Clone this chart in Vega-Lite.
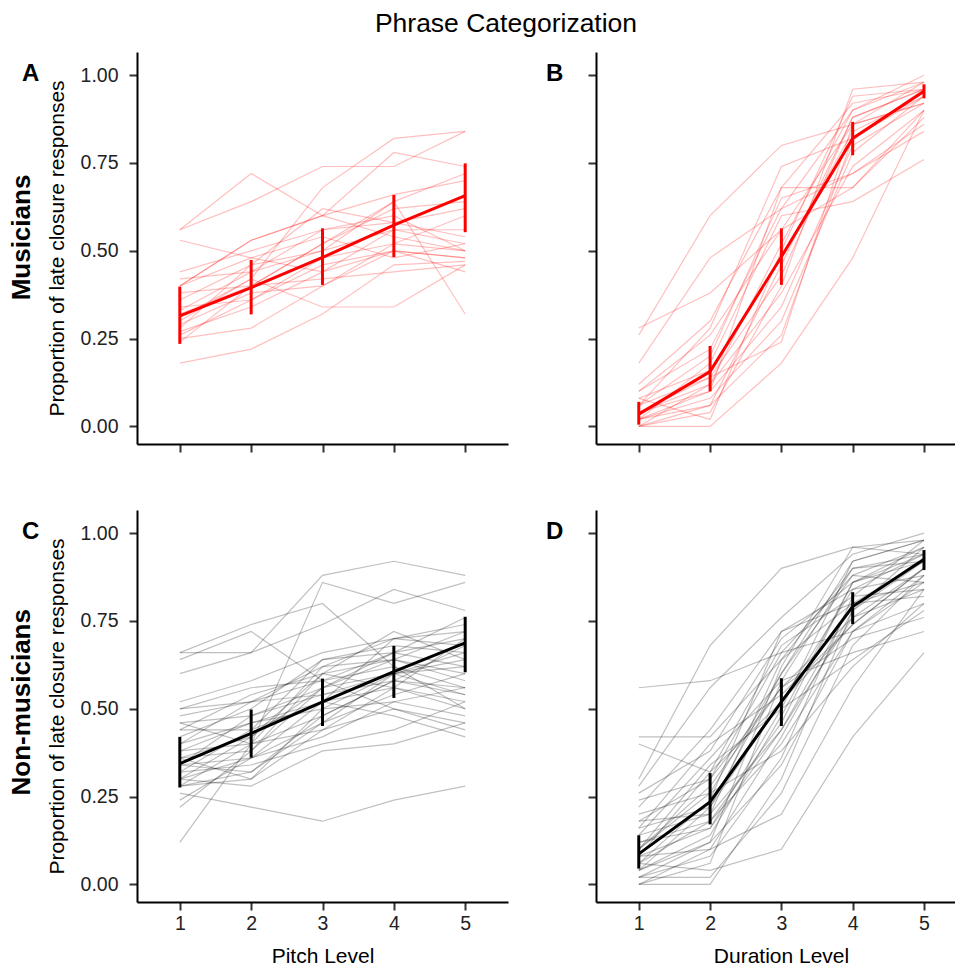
{
"$schema": "https://vega.github.io/schema/vega-lite/v6.json",
"padding": {"left": 9, "top": 10, "right": 0, "bottom": 0},
"title": {"text": "Phrase Categorization", "fontSize": 26.5, "fontWeight": "normal", "font": "Liberation Sans", "color": "#000", "anchor": "middle", "offset": 15, "dx": 24},
"datasets": {
"sum": [
{"p":"A","x":1,"y":0.315,"lo":0.235,"hi":0.398},{"p":"A","x":2,"y":0.395,"lo":0.319,"hi":0.474},{"p":"A","x":3,"y":0.481,"lo":0.403,"hi":0.564},{"p":"A","x":4,"y":0.573,"lo":0.482,"hi":0.659},{"p":"A","x":5,"y":0.657,"lo":0.553,"hi":0.749},
{"p":"B","x":1,"y":0.035,"lo":0.005,"hi":0.07},{"p":"B","x":2,"y":0.156,"lo":0.10,"hi":0.229},{"p":"B","x":3,"y":0.483,"lo":0.403,"hi":0.564},{"p":"B","x":4,"y":0.82,"lo":0.772,"hi":0.867},{"p":"B","x":5,"y":0.954,"lo":0.934,"hi":0.974},
{"p":"C","x":1,"y":0.344,"lo":0.276,"hi":0.42},{"p":"C","x":2,"y":0.43,"lo":0.361,"hi":0.498},{"p":"C","x":3,"y":0.52,"lo":0.451,"hi":0.586},{"p":"C","x":4,"y":0.606,"lo":0.531,"hi":0.679},{"p":"C","x":5,"y":0.688,"lo":0.604,"hi":0.762},
{"p":"D","x":1,"y":0.087,"lo":0.045,"hi":0.14},{"p":"D","x":2,"y":0.235,"lo":0.171,"hi":0.317},{"p":"D","x":3,"y":0.52,"lo":0.451,"hi":0.587},{"p":"D","x":4,"y":0.791,"lo":0.741,"hi":0.832},{"p":"D","x":5,"y":0.926,"lo":0.895,"hi":0.952}
],
"mp": [
{"i":1,"x":1,"y":0.56},{"i":1,"x":2,"y":0.72},{"i":1,"x":3,"y":0.60},{"i":1,"x":4,"y":0.54},{"i":1,"x":5,"y":0.50},
{"i":2,"x":1,"y":0.56},{"i":2,"x":2,"y":0.64},{"i":2,"x":3,"y":0.74},{"i":2,"x":4,"y":0.74},{"i":2,"x":5,"y":0.84},
{"i":3,"x":1,"y":0.53},{"i":3,"x":2,"y":0.48},{"i":3,"x":3,"y":0.44},{"i":3,"x":4,"y":0.50},{"i":3,"x":5,"y":0.48},
{"i":4,"x":1,"y":0.30},{"i":4,"x":2,"y":0.42},{"i":4,"x":3,"y":0.68},{"i":4,"x":4,"y":0.82},{"i":4,"x":5,"y":0.84},
{"i":5,"x":1,"y":0.40},{"i":5,"x":2,"y":0.53},{"i":5,"x":3,"y":0.60},{"i":5,"x":4,"y":0.78},{"i":5,"x":5,"y":0.74},
{"i":6,"x":1,"y":0.44},{"i":6,"x":2,"y":0.50},{"i":6,"x":3,"y":0.56},{"i":6,"x":4,"y":0.58},{"i":6,"x":5,"y":0.62},
{"i":7,"x":1,"y":0.42},{"i":7,"x":2,"y":0.44},{"i":7,"x":3,"y":0.50},{"i":7,"x":4,"y":0.64},{"i":7,"x":5,"y":0.72},
{"i":8,"x":1,"y":0.40},{"i":8,"x":2,"y":0.53},{"i":8,"x":3,"y":0.60},{"i":8,"x":4,"y":0.66},{"i":8,"x":5,"y":0.70},
{"i":9,"x":1,"y":0.36},{"i":9,"x":2,"y":0.46},{"i":9,"x":3,"y":0.50},{"i":9,"x":4,"y":0.56},{"i":9,"x":5,"y":0.52},
{"i":10,"x":1,"y":0.34},{"i":10,"x":2,"y":0.36},{"i":10,"x":3,"y":0.46},{"i":10,"x":4,"y":0.50},{"i":10,"x":5,"y":0.44},
{"i":11,"x":1,"y":0.32},{"i":11,"x":2,"y":0.40},{"i":11,"x":3,"y":0.52},{"i":11,"x":4,"y":0.64},{"i":11,"x":5,"y":0.32},
{"i":12,"x":1,"y":0.31},{"i":12,"x":2,"y":0.42},{"i":12,"x":3,"y":0.34},{"i":12,"x":4,"y":0.34},{"i":12,"x":5,"y":0.46},
{"i":13,"x":1,"y":0.29},{"i":13,"x":2,"y":0.38},{"i":13,"x":3,"y":0.40},{"i":13,"x":4,"y":0.50},{"i":13,"x":5,"y":0.48},
{"i":14,"x":1,"y":0.27},{"i":14,"x":2,"y":0.34},{"i":14,"x":3,"y":0.44},{"i":14,"x":4,"y":0.56},{"i":14,"x":5,"y":0.56},
{"i":15,"x":1,"y":0.26},{"i":15,"x":2,"y":0.36},{"i":15,"x":3,"y":0.48},{"i":15,"x":4,"y":0.52},{"i":15,"x":5,"y":0.60},
{"i":16,"x":1,"y":0.25},{"i":16,"x":2,"y":0.28},{"i":16,"x":3,"y":0.40},{"i":16,"x":4,"y":0.52},{"i":16,"x":5,"y":0.50},
{"i":17,"x":1,"y":0.24},{"i":17,"x":2,"y":0.40},{"i":17,"x":3,"y":0.52},{"i":17,"x":4,"y":0.62},{"i":17,"x":5,"y":0.64},
{"i":18,"x":1,"y":0.18},{"i":18,"x":2,"y":0.22},{"i":18,"x":3,"y":0.32},{"i":18,"x":4,"y":0.46},{"i":18,"x":5,"y":0.47},
{"i":19,"x":1,"y":0.38},{"i":19,"x":2,"y":0.40},{"i":19,"x":3,"y":0.42},{"i":19,"x":4,"y":0.44},{"i":19,"x":5,"y":0.46},
{"i":20,"x":1,"y":0.33},{"i":20,"x":2,"y":0.44},{"i":20,"x":3,"y":0.56},{"i":20,"x":4,"y":0.60},{"i":20,"x":5,"y":0.50},
{"i":21,"x":1,"y":0.40},{"i":21,"x":2,"y":0.48},{"i":21,"x":3,"y":0.54},{"i":21,"x":4,"y":0.48},{"i":21,"x":5,"y":0.52},
{"i":22,"x":1,"y":0.28},{"i":22,"x":2,"y":0.46},{"i":22,"x":3,"y":0.62},{"i":22,"x":4,"y":0.58},{"i":22,"x":5,"y":0.54}
],
"md": [
{"i":1,"x":1,"y":0.26},{"i":1,"x":2,"y":0.60},{"i":1,"x":3,"y":0.80},{"i":1,"x":4,"y":0.86},{"i":1,"x":5,"y":0.92},
{"i":2,"x":1,"y":0.28},{"i":2,"x":2,"y":0.38},{"i":2,"x":3,"y":0.56},{"i":2,"x":4,"y":0.68},{"i":2,"x":5,"y":0.90},
{"i":3,"x":1,"y":0.18},{"i":3,"x":2,"y":0.48},{"i":3,"x":3,"y":0.62},{"i":3,"x":4,"y":0.72},{"i":3,"x":5,"y":0.84},
{"i":4,"x":1,"y":0.12},{"i":4,"x":2,"y":0.30},{"i":4,"x":3,"y":0.68},{"i":4,"x":4,"y":0.92},{"i":4,"x":5,"y":0.96},
{"i":5,"x":1,"y":0.10},{"i":5,"x":2,"y":0.22},{"i":5,"x":3,"y":0.62},{"i":5,"x":4,"y":0.90},{"i":5,"x":5,"y":0.98},
{"i":6,"x":1,"y":0.08},{"i":6,"x":2,"y":0.16},{"i":6,"x":3,"y":0.48},{"i":6,"x":4,"y":0.84},{"i":6,"x":5,"y":0.94},
{"i":7,"x":1,"y":0.06},{"i":7,"x":2,"y":0.14},{"i":7,"x":3,"y":0.43},{"i":7,"x":4,"y":0.88},{"i":7,"x":5,"y":0.96},
{"i":8,"x":1,"y":0.04},{"i":8,"x":2,"y":0.12},{"i":8,"x":3,"y":0.52},{"i":8,"x":4,"y":0.90},{"i":8,"x":5,"y":1.00},
{"i":9,"x":1,"y":0.02},{"i":9,"x":2,"y":0.10},{"i":9,"x":3,"y":0.34},{"i":9,"x":4,"y":0.80},{"i":9,"x":5,"y":0.92},
{"i":10,"x":1,"y":0.00},{"i":10,"x":2,"y":0.06},{"i":10,"x":3,"y":0.26},{"i":10,"x":4,"y":0.82},{"i":10,"x":5,"y":0.96},
{"i":11,"x":1,"y":0.00},{"i":11,"x":2,"y":0.00},{"i":11,"x":3,"y":0.18},{"i":11,"x":4,"y":0.48},{"i":11,"x":5,"y":0.90},
{"i":12,"x":1,"y":0.02},{"i":12,"x":2,"y":0.18},{"i":12,"x":3,"y":0.60},{"i":12,"x":4,"y":0.64},{"i":12,"x":5,"y":0.76},
{"i":13,"x":1,"y":0.04},{"i":13,"x":2,"y":0.10},{"i":13,"x":3,"y":0.68},{"i":13,"x":4,"y":0.68},{"i":13,"x":5,"y":0.88},
{"i":14,"x":1,"y":0.06},{"i":14,"x":2,"y":0.20},{"i":14,"x":3,"y":0.65},{"i":14,"x":4,"y":0.72},{"i":14,"x":5,"y":0.86},
{"i":15,"x":1,"y":0.00},{"i":15,"x":2,"y":0.04},{"i":15,"x":3,"y":0.40},{"i":15,"x":4,"y":0.96},{"i":15,"x":5,"y":0.98},
{"i":16,"x":1,"y":0.02},{"i":16,"x":2,"y":0.08},{"i":16,"x":3,"y":0.30},{"i":16,"x":4,"y":0.78},{"i":16,"x":5,"y":0.94},
{"i":17,"x":1,"y":0.10},{"i":17,"x":2,"y":0.26},{"i":17,"x":3,"y":0.56},{"i":17,"x":4,"y":0.86},{"i":17,"x":5,"y":0.92},
{"i":18,"x":1,"y":0.04},{"i":18,"x":2,"y":0.14},{"i":18,"x":3,"y":0.24},{"i":18,"x":4,"y":0.86},{"i":18,"x":5,"y":0.98},
{"i":19,"x":1,"y":0.08},{"i":19,"x":2,"y":0.02},{"i":19,"x":3,"y":0.50},{"i":19,"x":4,"y":0.94},{"i":19,"x":5,"y":0.96},
{"i":20,"x":1,"y":0.00},{"i":20,"x":2,"y":0.12},{"i":20,"x":3,"y":0.38},{"i":20,"x":4,"y":0.74},{"i":20,"x":5,"y":0.90},
{"i":21,"x":1,"y":0.06},{"i":21,"x":2,"y":0.28},{"i":21,"x":3,"y":0.74},{"i":21,"x":4,"y":0.82},{"i":21,"x":5,"y":0.94},
{"i":22,"x":1,"y":0.02},{"i":22,"x":2,"y":0.06},{"i":22,"x":3,"y":0.46},{"i":22,"x":4,"y":0.88},{"i":22,"x":5,"y":0.96}
],
"np": [
{"i":1,"x":1,"y":0.66},{"i":1,"x":2,"y":0.74},{"i":1,"x":3,"y":0.80},{"i":1,"x":4,"y":0.62},{"i":1,"x":5,"y":0.56},
{"i":2,"x":1,"y":0.66},{"i":2,"x":2,"y":0.66},{"i":2,"x":3,"y":0.74},{"i":2,"x":4,"y":0.84},{"i":2,"x":5,"y":0.78},
{"i":3,"x":1,"y":0.64},{"i":3,"x":2,"y":0.72},{"i":3,"x":3,"y":0.58},{"i":3,"x":4,"y":0.50},{"i":3,"x":5,"y":0.46},
{"i":4,"x":1,"y":0.60},{"i":4,"x":2,"y":0.66},{"i":4,"x":3,"y":0.88},{"i":4,"x":4,"y":0.92},{"i":4,"x":5,"y":0.88},
{"i":5,"x":1,"y":0.12},{"i":5,"x":2,"y":0.40},{"i":5,"x":3,"y":0.86},{"i":5,"x":4,"y":0.80},{"i":5,"x":5,"y":0.86},
{"i":6,"x":1,"y":0.52},{"i":6,"x":2,"y":0.58},{"i":6,"x":3,"y":0.66},{"i":6,"x":4,"y":0.70},{"i":6,"x":5,"y":0.72},
{"i":7,"x":1,"y":0.50},{"i":7,"x":2,"y":0.56},{"i":7,"x":3,"y":0.58},{"i":7,"x":4,"y":0.66},{"i":7,"x":5,"y":0.70},
{"i":8,"x":1,"y":0.48},{"i":8,"x":2,"y":0.52},{"i":8,"x":3,"y":0.62},{"i":8,"x":4,"y":0.64},{"i":8,"x":5,"y":0.60},
{"i":9,"x":1,"y":0.46},{"i":9,"x":2,"y":0.48},{"i":9,"x":3,"y":0.54},{"i":9,"x":4,"y":0.58},{"i":9,"x":5,"y":0.56},
{"i":10,"x":1,"y":0.44},{"i":10,"x":2,"y":0.44},{"i":10,"x":3,"y":0.52},{"i":10,"x":4,"y":0.56},{"i":10,"x":5,"y":0.52},
{"i":11,"x":1,"y":0.42},{"i":11,"x":2,"y":0.50},{"i":11,"x":3,"y":0.64},{"i":11,"x":4,"y":0.68},{"i":11,"x":5,"y":0.66},
{"i":12,"x":1,"y":0.40},{"i":12,"x":2,"y":0.46},{"i":12,"x":3,"y":0.50},{"i":12,"x":4,"y":0.52},{"i":12,"x":5,"y":0.48},
{"i":13,"x":1,"y":0.38},{"i":13,"x":2,"y":0.40},{"i":13,"x":3,"y":0.44},{"i":13,"x":4,"y":0.50},{"i":13,"x":5,"y":0.44},
{"i":14,"x":1,"y":0.36},{"i":14,"x":2,"y":0.42},{"i":14,"x":3,"y":0.56},{"i":14,"x":4,"y":0.66},{"i":14,"x":5,"y":0.76},
{"i":15,"x":1,"y":0.34},{"i":15,"x":2,"y":0.36},{"i":15,"x":3,"y":0.46},{"i":15,"x":4,"y":0.60},{"i":15,"x":5,"y":0.62},
{"i":16,"x":1,"y":0.32},{"i":16,"x":2,"y":0.34},{"i":16,"x":3,"y":0.40},{"i":16,"x":4,"y":0.44},{"i":16,"x":5,"y":0.52},
{"i":17,"x":1,"y":0.30},{"i":17,"x":2,"y":0.28},{"i":17,"x":3,"y":0.38},{"i":17,"x":4,"y":0.40},{"i":17,"x":5,"y":0.46},
{"i":18,"x":1,"y":0.28},{"i":18,"x":2,"y":0.30},{"i":18,"x":3,"y":0.44},{"i":18,"x":4,"y":0.56},{"i":18,"x":5,"y":0.70},
{"i":19,"x":1,"y":0.26},{"i":19,"x":2,"y":0.22},{"i":19,"x":3,"y":0.18},{"i":19,"x":4,"y":0.24},{"i":19,"x":5,"y":0.28},
{"i":20,"x":1,"y":0.22},{"i":20,"x":2,"y":0.38},{"i":20,"x":3,"y":0.56},{"i":20,"x":4,"y":0.64},{"i":20,"x":5,"y":0.58},
{"i":21,"x":1,"y":0.30},{"i":21,"x":2,"y":0.42},{"i":21,"x":3,"y":0.60},{"i":21,"x":4,"y":0.72},{"i":21,"x":5,"y":0.64},
{"i":22,"x":1,"y":0.34},{"i":22,"x":2,"y":0.48},{"i":22,"x":3,"y":0.56},{"i":22,"x":4,"y":0.60},{"i":22,"x":5,"y":0.66},
{"i":23,"x":1,"y":0.36},{"i":23,"x":2,"y":0.30},{"i":23,"x":3,"y":0.50},{"i":23,"x":4,"y":0.60},{"i":23,"x":5,"y":0.54},
{"i":24,"x":1,"y":0.40},{"i":24,"x":2,"y":0.52},{"i":24,"x":3,"y":0.58},{"i":24,"x":4,"y":0.62},{"i":24,"x":5,"y":0.50},
{"i":25,"x":1,"y":0.28},{"i":25,"x":2,"y":0.32},{"i":25,"x":3,"y":0.48},{"i":25,"x":4,"y":0.58},{"i":25,"x":5,"y":0.68},
{"i":26,"x":1,"y":0.24},{"i":26,"x":2,"y":0.36},{"i":26,"x":3,"y":0.52},{"i":26,"x":4,"y":0.70},{"i":26,"x":5,"y":0.74},
{"i":27,"x":1,"y":0.46},{"i":27,"x":2,"y":0.40},{"i":27,"x":3,"y":0.62},{"i":27,"x":4,"y":0.70},{"i":27,"x":5,"y":0.68},
{"i":28,"x":1,"y":0.32},{"i":28,"x":2,"y":0.44},{"i":28,"x":3,"y":0.64},{"i":28,"x":4,"y":0.66},{"i":28,"x":5,"y":0.62},
{"i":29,"x":1,"y":0.38},{"i":29,"x":2,"y":0.46},{"i":29,"x":3,"y":0.52},{"i":29,"x":4,"y":0.48},{"i":29,"x":5,"y":0.42},
{"i":30,"x":1,"y":0.44},{"i":30,"x":2,"y":0.54},{"i":30,"x":3,"y":0.60},{"i":30,"x":4,"y":0.56},{"i":30,"x":5,"y":0.50},
{"i":31,"x":1,"y":0.30},{"i":31,"x":2,"y":0.36},{"i":31,"x":3,"y":0.42},{"i":31,"x":4,"y":0.52},{"i":31,"x":5,"y":0.56},
{"i":32,"x":1,"y":0.34},{"i":32,"x":2,"y":0.32},{"i":32,"x":3,"y":0.46},{"i":32,"x":4,"y":0.54},{"i":32,"x":5,"y":0.60},
{"i":33,"x":1,"y":0.50},{"i":33,"x":2,"y":0.52},{"i":33,"x":3,"y":0.54},{"i":33,"x":4,"y":0.60},{"i":33,"x":5,"y":0.64},
{"i":34,"x":1,"y":0.28},{"i":34,"x":2,"y":0.40},{"i":34,"x":3,"y":0.48},{"i":34,"x":4,"y":0.58},{"i":34,"x":5,"y":0.54},
{"i":35,"x":1,"y":0.36},{"i":35,"x":2,"y":0.38},{"i":35,"x":3,"y":0.60},{"i":35,"x":4,"y":0.64},{"i":35,"x":5,"y":0.72}
],
"nd": [
{"i":1,"x":1,"y":0.56},{"i":1,"x":2,"y":0.58},{"i":1,"x":3,"y":0.66},{"i":1,"x":4,"y":0.72},{"i":1,"x":5,"y":0.80},
{"i":2,"x":1,"y":0.42},{"i":2,"x":2,"y":0.42},{"i":2,"x":3,"y":0.64},{"i":2,"x":4,"y":0.80},{"i":2,"x":5,"y":0.82},
{"i":3,"x":1,"y":0.40},{"i":3,"x":2,"y":0.32},{"i":3,"x":3,"y":0.52},{"i":3,"x":4,"y":0.74},{"i":3,"x":5,"y":0.90},
{"i":4,"x":1,"y":0.30},{"i":4,"x":2,"y":0.68},{"i":4,"x":3,"y":0.90},{"i":4,"x":4,"y":0.96},{"i":4,"x":5,"y":0.94},
{"i":5,"x":1,"y":0.28},{"i":5,"x":2,"y":0.56},{"i":5,"x":3,"y":0.76},{"i":5,"x":4,"y":0.94},{"i":5,"x":5,"y":1.00},
{"i":6,"x":1,"y":0.26},{"i":6,"x":2,"y":0.38},{"i":6,"x":3,"y":0.70},{"i":6,"x":4,"y":0.86},{"i":6,"x":5,"y":0.92},
{"i":7,"x":1,"y":0.20},{"i":7,"x":2,"y":0.26},{"i":7,"x":3,"y":0.60},{"i":7,"x":4,"y":0.92},{"i":7,"x":5,"y":0.98},
{"i":8,"x":1,"y":0.18},{"i":8,"x":2,"y":0.30},{"i":8,"x":3,"y":0.66},{"i":8,"x":4,"y":0.88},{"i":8,"x":5,"y":0.96},
{"i":9,"x":1,"y":0.16},{"i":9,"x":2,"y":0.22},{"i":9,"x":3,"y":0.52},{"i":9,"x":4,"y":0.84},{"i":9,"x":5,"y":0.94},
{"i":10,"x":1,"y":0.14},{"i":10,"x":2,"y":0.20},{"i":10,"x":3,"y":0.44},{"i":10,"x":4,"y":0.80},{"i":10,"x":5,"y":0.92},
{"i":11,"x":1,"y":0.12},{"i":11,"x":2,"y":0.18},{"i":11,"x":3,"y":0.40},{"i":11,"x":4,"y":0.72},{"i":11,"x":5,"y":0.86},
{"i":12,"x":1,"y":0.10},{"i":12,"x":2,"y":0.28},{"i":12,"x":3,"y":0.56},{"i":12,"x":4,"y":0.70},{"i":12,"x":5,"y":0.76},
{"i":13,"x":1,"y":0.08},{"i":13,"x":2,"y":0.10},{"i":13,"x":3,"y":0.20},{"i":13,"x":4,"y":0.56},{"i":13,"x":5,"y":0.84},
{"i":14,"x":1,"y":0.06},{"i":14,"x":2,"y":0.04},{"i":14,"x":3,"y":0.10},{"i":14,"x":4,"y":0.42},{"i":14,"x":5,"y":0.66},
{"i":15,"x":1,"y":0.04},{"i":15,"x":2,"y":0.14},{"i":15,"x":3,"y":0.48},{"i":15,"x":4,"y":0.86},{"i":15,"x":5,"y":0.96},
{"i":16,"x":1,"y":0.02},{"i":16,"x":2,"y":0.08},{"i":16,"x":3,"y":0.36},{"i":16,"x":4,"y":0.82},{"i":16,"x":5,"y":0.98},
{"i":17,"x":1,"y":0.00},{"i":17,"x":2,"y":0.00},{"i":17,"x":3,"y":0.30},{"i":17,"x":4,"y":0.78},{"i":17,"x":5,"y":0.92},
{"i":18,"x":1,"y":0.00},{"i":18,"x":2,"y":0.06},{"i":18,"x":3,"y":0.58},{"i":18,"x":4,"y":0.90},{"i":18,"x":5,"y":0.94},
{"i":19,"x":1,"y":0.02},{"i":19,"x":2,"y":0.12},{"i":19,"x":3,"y":0.62},{"i":19,"x":4,"y":0.96},{"i":19,"x":5,"y":0.98},
{"i":20,"x":1,"y":0.06},{"i":20,"x":2,"y":0.24},{"i":20,"x":3,"y":0.72},{"i":20,"x":4,"y":0.84},{"i":20,"x":5,"y":0.88},
{"i":21,"x":1,"y":0.10},{"i":21,"x":2,"y":0.34},{"i":21,"x":3,"y":0.50},{"i":21,"x":4,"y":0.64},{"i":21,"x":5,"y":0.78},
{"i":22,"x":1,"y":0.12},{"i":22,"x":2,"y":0.16},{"i":22,"x":3,"y":0.44},{"i":22,"x":4,"y":0.76},{"i":22,"x":5,"y":0.90},
{"i":23,"x":1,"y":0.04},{"i":23,"x":2,"y":0.22},{"i":23,"x":3,"y":0.60},{"i":23,"x":4,"y":0.88},{"i":23,"x":5,"y":0.86},
{"i":24,"x":1,"y":0.08},{"i":24,"x":2,"y":0.32},{"i":24,"x":3,"y":0.68},{"i":24,"x":4,"y":0.82},{"i":24,"x":5,"y":0.84},
{"i":25,"x":1,"y":0.14},{"i":25,"x":2,"y":0.36},{"i":25,"x":3,"y":0.58},{"i":25,"x":4,"y":0.66},{"i":25,"x":5,"y":0.72},
{"i":26,"x":1,"y":0.22},{"i":26,"x":2,"y":0.44},{"i":26,"x":3,"y":0.72},{"i":26,"x":4,"y":0.80},{"i":26,"x":5,"y":0.86},
{"i":27,"x":1,"y":0.02},{"i":27,"x":2,"y":0.02},{"i":27,"x":3,"y":0.26},{"i":27,"x":4,"y":0.68},{"i":27,"x":5,"y":0.88},
{"i":28,"x":1,"y":0.16},{"i":28,"x":2,"y":0.40},{"i":28,"x":3,"y":0.54},{"i":28,"x":4,"y":0.74},{"i":28,"x":5,"y":0.90},
{"i":29,"x":1,"y":0.06},{"i":29,"x":2,"y":0.18},{"i":29,"x":3,"y":0.46},{"i":29,"x":4,"y":0.86},{"i":29,"x":5,"y":0.94},
{"i":30,"x":1,"y":0.10},{"i":30,"x":2,"y":0.26},{"i":30,"x":3,"y":0.38},{"i":30,"x":4,"y":0.62},{"i":30,"x":5,"y":0.80},
{"i":31,"x":1,"y":0.18},{"i":31,"x":2,"y":0.20},{"i":31,"x":3,"y":0.64},{"i":31,"x":4,"y":0.90},{"i":31,"x":5,"y":0.92},
{"i":32,"x":1,"y":0.00},{"i":32,"x":2,"y":0.10},{"i":32,"x":3,"y":0.42},{"i":32,"x":4,"y":0.78},{"i":32,"x":5,"y":0.96},
{"i":33,"x":1,"y":0.24},{"i":33,"x":2,"y":0.30},{"i":33,"x":3,"y":0.56},{"i":33,"x":4,"y":0.76},{"i":33,"x":5,"y":0.84},
{"i":34,"x":1,"y":0.04},{"i":34,"x":2,"y":0.12},{"i":34,"x":3,"y":0.34},{"i":34,"x":4,"y":0.72},{"i":34,"x":5,"y":0.88},
{"i":35,"x":1,"y":0.08},{"i":35,"x":2,"y":0.16},{"i":35,"x":3,"y":0.50},{"i":35,"x":4,"y":0.92},{"i":35,"x":5,"y":0.98}
]
},
"spacing": 57,
"vconcat": [
{
"title": {"text": "Musicians", "orient": "left", "anchor": "middle", "fontSize": 26, "fontWeight": "bold", "offset": -13, "dx": 15, "color": "#000"},
"spacing": 88,
"bounds": "flush",
"hconcat": [
{
"width": 371, "height": 392,
"title": {"text": "A", "anchor": "start", "frame": "group", "align": "left", "baseline": "alphabetic", "dx": -115, "dy": 53, "offset": 0, "fontSize": 24, "fontWeight": "bold", "color": "#000"},
"encoding": {"x": {"field": "x", "type": "quantitative", "scale": {"domain": [0.4, 5.6], "nice": false, "zero": false}, "axis": {"values": [1,2,3,4,5], "labels": false, "title": null}}},
"layer": [
{"data": {"name": "mp"}, "mark": {"type": "line", "color": "#FF0000", "opacity": 0.25, "strokeWidth": 1.2}, "encoding": {"y": {"field": "y", "type": "quantitative", "title": "Proportion of late closure responses", "scale": {"domain": [-0.05, 1.066], "nice": false, "zero": false}, "axis": {"values": [0,0.25,0.5,0.75,1], "format": ".2f"}}, "detail": {"field": "i", "type": "nominal"}}},
{"data": {"name": "sum"}, "transform": [{"filter": "datum.p === 'A'"}], "mark": {"type": "line", "color": "#FF0000", "strokeWidth": 3}, "encoding": {"y": {"field": "y", "type": "quantitative", "title": "Proportion of late closure responses"}}},
{"data": {"name": "sum"}, "transform": [{"filter": "datum.p === 'A'"}], "mark": {"type": "rule", "color": "#FF0000", "strokeWidth": 3}, "encoding": {"y": {"field": "lo", "type": "quantitative", "title": "Proportion of late closure responses"}, "y2": {"field": "hi"}}}
]
},
{
"width": 359, "height": 392,
"title": {"text": "B", "anchor": "start", "frame": "group", "align": "left", "baseline": "alphabetic", "dx": -50, "dy": 53, "offset": 0, "fontSize": 24, "fontWeight": "bold", "color": "#000"},
"encoding": {"x": {"field": "x", "type": "quantitative", "scale": {"domain": [0.4, 5.435], "nice": false, "zero": false}, "axis": {"values": [1,2,3,4,5], "labels": false, "title": null}}},
"layer": [
{"data": {"name": "md"}, "mark": {"type": "line", "color": "#FF0000", "opacity": 0.25, "strokeWidth": 1.2}, "encoding": {"y": {"field": "y", "type": "quantitative", "title": null, "scale": {"domain": [-0.05, 1.066], "nice": false, "zero": false}, "axis": {"values": [0,0.25,0.5,0.75,1], "labels": false, "title": null}}, "detail": {"field": "i", "type": "nominal"}}},
{"data": {"name": "sum"}, "transform": [{"filter": "datum.p === 'B'"}], "mark": {"type": "line", "color": "#FF0000", "strokeWidth": 3}, "encoding": {"y": {"field": "y", "type": "quantitative", "title": null}}},
{"data": {"name": "sum"}, "transform": [{"filter": "datum.p === 'B'"}], "mark": {"type": "rule", "color": "#FF0000", "strokeWidth": 3}, "encoding": {"y": {"field": "lo", "type": "quantitative", "title": null}, "y2": {"field": "hi"}}}
]
}
]
},
{
"title": {"text": "Non-musicians", "orient": "left", "anchor": "middle", "fontSize": 26, "fontWeight": "bold", "offset": -13, "dx": 36, "color": "#000"},
"spacing": 88,
"bounds": "flush",
"hconcat": [
{
"width": 371, "height": 392,
"title": {"text": "C", "anchor": "start", "frame": "group", "align": "left", "baseline": "alphabetic", "dx": -115, "dy": 53, "offset": 0, "fontSize": 24, "fontWeight": "bold", "color": "#000"},
"encoding": {"x": {"field": "x", "type": "quantitative", "scale": {"domain": [0.4, 5.6], "nice": false, "zero": false}, "axis": {"values": [1,2,3,4,5], "format": "d", "title": "Pitch Level"}}},
"layer": [
{"data": {"name": "np"}, "mark": {"type": "line", "color": "#000000", "opacity": 0.25, "strokeWidth": 1.2}, "encoding": {"y": {"field": "y", "type": "quantitative", "title": "Proportion of late closure responses", "scale": {"domain": [-0.05, 1.066], "nice": false, "zero": false}, "axis": {"values": [0,0.25,0.5,0.75,1], "format": ".2f"}}, "detail": {"field": "i", "type": "nominal"}}},
{"data": {"name": "sum"}, "transform": [{"filter": "datum.p === 'C'"}], "mark": {"type": "line", "color": "#000000", "strokeWidth": 3}, "encoding": {"y": {"field": "y", "type": "quantitative", "title": "Proportion of late closure responses"}}},
{"data": {"name": "sum"}, "transform": [{"filter": "datum.p === 'C'"}], "mark": {"type": "rule", "color": "#000000", "strokeWidth": 3}, "encoding": {"y": {"field": "lo", "type": "quantitative", "title": "Proportion of late closure responses"}, "y2": {"field": "hi"}}}
]
},
{
"width": 359, "height": 392,
"title": {"text": "D", "anchor": "start", "frame": "group", "align": "left", "baseline": "alphabetic", "dx": -50, "dy": 53, "offset": 0, "fontSize": 24, "fontWeight": "bold", "color": "#000"},
"encoding": {"x": {"field": "x", "type": "quantitative", "scale": {"domain": [0.4, 5.435], "nice": false, "zero": false}, "axis": {"values": [1,2,3,4,5], "format": "d", "title": "Duration Level", "titleX": 185}}},
"layer": [
{"data": {"name": "nd"}, "mark": {"type": "line", "color": "#000000", "opacity": 0.25, "strokeWidth": 1.2}, "encoding": {"y": {"field": "y", "type": "quantitative", "title": null, "scale": {"domain": [-0.05, 1.066], "nice": false, "zero": false}, "axis": {"values": [0,0.25,0.5,0.75,1], "labels": false, "title": null}}, "detail": {"field": "i", "type": "nominal"}}},
{"data": {"name": "sum"}, "transform": [{"filter": "datum.p === 'D'"}], "mark": {"type": "line", "color": "#000000", "strokeWidth": 3}, "encoding": {"y": {"field": "y", "type": "quantitative", "title": null}}},
{"data": {"name": "sum"}, "transform": [{"filter": "datum.p === 'D'"}], "mark": {"type": "rule", "color": "#000000", "strokeWidth": 3}, "encoding": {"y": {"field": "lo", "type": "quantitative", "title": null}, "y2": {"field": "hi"}}}
]
}
]
}
],
"config": {
"view": {"stroke": null},
"font": "Liberation Sans",
"title": {"font": "Liberation Sans"},
"axis": {"grid": false, "domainColor": "#000", "domainWidth": 2, "tickColor": "#333", "tickWidth": 2, "tickSize": 8, "labelFont": "Liberation Sans", "labelFontSize": 19.5, "labelColor": "#222", "titleFont": "Liberation Sans", "titleFontSize": 21, "titleFontWeight": "normal", "titleColor": "#000"},
"axisX": {"labelPadding": 4, "titlePadding": 13},
"axisY": {"labelPadding": 11, "titlePadding": 13}
}
}
